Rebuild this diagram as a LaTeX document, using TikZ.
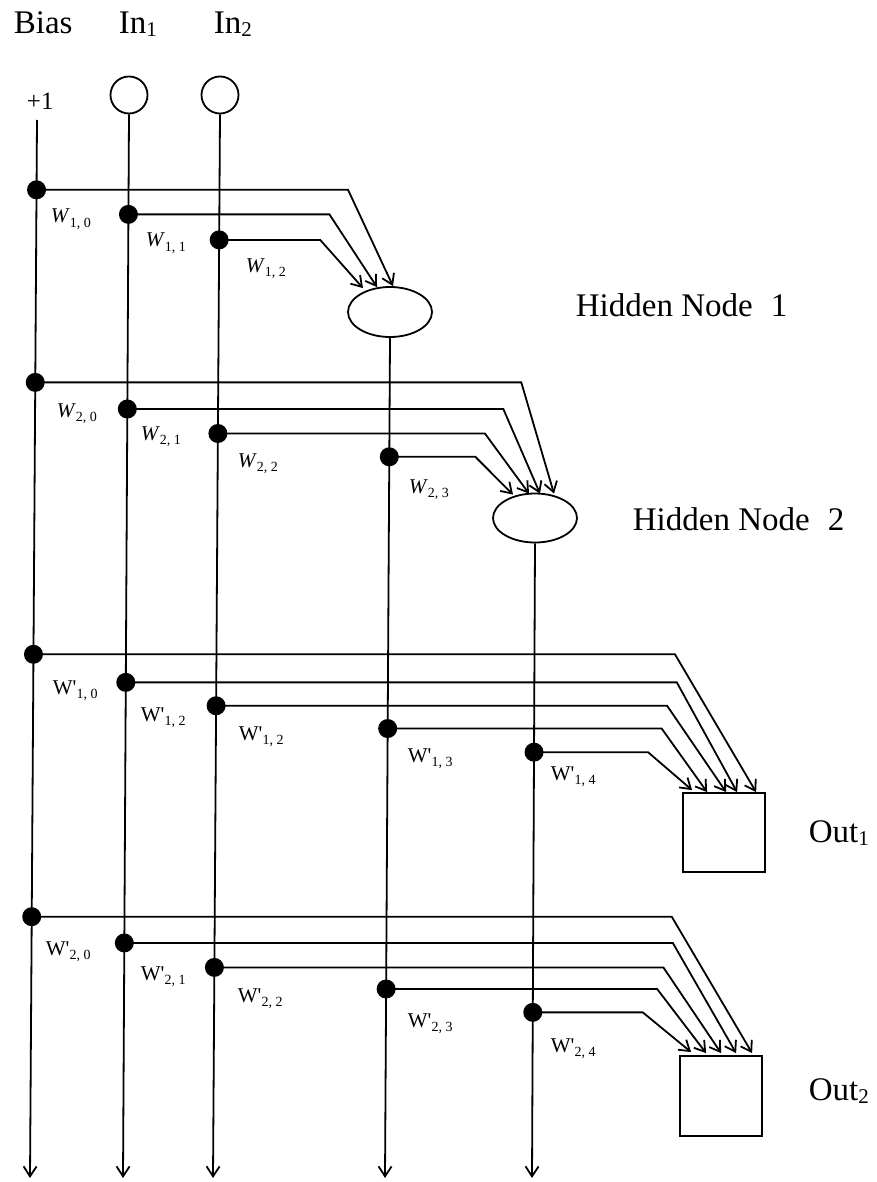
\documentclass[tikz,border=0pt]{standalone}
\usepackage{fontspec}
\setmainfont{Liberation Serif}
\usetikzlibrary{arrows.meta,shapes.geometric,calc}
\newcommand\wsub[2]{#1\raisebox{-4.5pt}{\fontsize{14}{14}\selectfont #2}}
\newcommand\bigsub[2]{#1\raisebox{-3pt}{\fontsize{21}{21}\selectfont #2}}
\begin{document}
\begin{tikzpicture}[x=1pt,y=-1pt,
  line width=1.8pt,
  conn/.style={-{Straight Barb[length=10pt,width=13pt]}, line width=1.8pt},
  dotnode/.style={circle, fill=black, draw=none, minimum size=19pt, inner sep=0pt},
  innode/.style={circle, draw, line width=1.8pt, minimum size=37pt, inner sep=0pt},
  hidnode/.style={ellipse, draw, line width=1.8pt, minimum width=84pt, minimum height=50pt, inner sep=0pt},
  outbox/.style={rectangle, draw, line width=1.8pt, minimum width=82pt, minimum height=79pt, inner sep=0pt},
  lbl/.style={anchor=base west, inner sep=0pt, font=\fontsize{33}{33}\selectfont},
  wlbl/.style={anchor=base west, inner sep=0pt, font=\fontsize{21}{21}\selectfont}]
\useasboundingbox (0,0) rectangle (876,1182);

% headings
\node[lbl] (tbias) at (13,34) {Bias};
\node[lbl] (tin1) at (118,34) {\bigsub{In}{1}};
\node[lbl] (tin2) at (213,34) {\bigsub{In}{2}};
\node[lbl, font=\fontsize{25}{25}\selectfont] (plus) at (26,110) {+1};

% nodes
\node[innode] (c1) at (129,95) {};
\node[innode] (c2) at (220,95) {};
\node[hidnode] (h1) at (390,312) {};
\node[hidnode, minimum height=49pt] (h2) at (535,518) {};
\node[outbox] (o1) at (724,832.5) {};
\node[outbox, minimum height=80pt] (o2) at (721,1096) {};

\node[lbl] (th1) at (575,316) {Hidden Node\hspace{0.55em}1};
\node[lbl] (th2) at (632,530) {Hidden Node\hspace{0.55em}2};
\node[lbl] (to1) at (808,842) {\bigsub{Out}{1}};
\node[lbl] (to2) at (808,1100) {\bigsub{Out}{2}};

% line ends
\coordinate (bt) at (37,120);
\coordinate (eb) at (30,1178);
\coordinate (e1) at (123,1178);
\coordinate (e2) at (213,1178);
\coordinate (e3) at (385,1178);
\coordinate (e4) at (532,1178);

% vertical lines with junction dots
\draw[conn] (bt) -- (eb)
  node[dotnode,pos=0.066] (d10) {}
  node[dotnode,pos=0.248] (d20) {}
  node[dotnode,pos=0.505] (d30) {}
  node[dotnode,pos=0.753] (d40) {};
\draw[conn] (c1.south) -- (e1)
  node[dotnode,pos=0.094] (d11) {}
  node[dotnode,pos=0.277] (d21) {}
  node[dotnode,pos=0.534] (d31) {}
  node[dotnode,pos=0.779] (d41) {};
\draw[conn] (c2.south) -- (e2)
  node[dotnode,pos=0.118] (d12) {}
  node[dotnode,pos=0.300] (d22) {}
  node[dotnode,pos=0.556] (d32) {}
  node[dotnode,pos=0.802] (d42) {};
\draw[conn] (h1.south) -- (e3)
  node[dotnode,pos=0.1415] (d23) {}
  node[dotnode,pos=0.465] (d33) {}
  node[dotnode,pos=0.775] (d43) {};
\draw[conn] (h2.south) -- (e4)
  node[dotnode,pos=0.329] (d34) {}
  node[dotnode,pos=0.739] (d44) {};

% row 1 -> hidden 1
\draw[conn] (d10.center) -- ++(311.5,0) -- ($(h1.north)+(3,0)$);
\draw[conn] (d11.center) -- ++(201,0) -- ($(h1.north)+(-13,1)$);
\draw[conn] (d12.center) -- ++(101,0) -- ($(h1.north)+(-27,2)$);

% row 2 -> hidden 2
\draw[conn] (d20.center) -- ++(486,0) -- ($(h2.north)+(19,1)$);
\draw[conn] (d21.center) -- ++(376,0) -- ($(h2.north)+(5,1)$);
\draw[conn] (d22.center) -- ++(267,0) -- ($(h2.north)+(-6,1)$);
\draw[conn] (d23.center) -- ++(86,0) -- ($(h2.north)+(-22,2)$);

% row 3 -> out 1
\draw[conn] (d30.center) -- ++(641.5,0) -- ($(o1.north west)+(74,0)$);
\draw[conn] (d31.center) -- ++(551,0) -- ($(o1.north west)+(55,0)$);
\draw[conn] (d32.center) -- ++(451,0) -- ($(o1.north west)+(44,0)$);
\draw[conn] (d33.center) -- ++(274,0) -- ($(o1.north west)+(25,0)$);
\draw[conn] (d34.center) -- ++(114,0) -- ($(o1.north west)+(10,-2)$);

% row 4 -> out 2
\draw[conn] (d40.center) -- ++(640,0) -- ($(o2.north west)+(73,-2)$);
\draw[conn] (d41.center) -- ++(548.5,0) -- ($(o2.north west)+(57,-2)$);
\draw[conn] (d42.center) -- ++(449,0) -- ($(o2.north west)+(42,-2)$);
\draw[conn] (d43.center) -- ++(271,0) -- ($(o2.north west)+(27,-2)$);
\draw[conn] (d44.center) -- ++(110,0) -- ($(o2.north west)+(12,-3)$);

% weight labels
\node[wlbl] (w10) at (50,223) {\wsub{\textit{W}}{1, 0}};
\node[wlbl] (w11) at (145,247) {\wsub{\textit{W}}{1, 1}};
\node[wlbl] (w12) at (245,272) {\wsub{\textit{W}}{1, 2}};
\node[wlbl] (w20) at (56,417) {\wsub{\textit{W}}{2, 0}};
\node[wlbl] (w21) at (140,440) {\wsub{\textit{W}}{2, 1}};
\node[wlbl] (w22) at (237,467) {\wsub{\textit{W}}{2, 2}};
\node[wlbl] (w23) at (408,493) {\wsub{\textit{W}}{2, 3}};

\node[wlbl] (v10) at (52,694) {\wsub{W\textquotesingle}{1, 0}};
\node[wlbl] (v11) at (140,721) {\wsub{W\textquotesingle}{1, 2}};
\node[wlbl] (v12) at (238,740) {\wsub{W\textquotesingle}{1, 2}};
\node[wlbl] (v13) at (407,762) {\wsub{W\textquotesingle}{1, 3}};
\node[wlbl] (v14) at (550,780) {\wsub{W\textquotesingle}{1, 4}};
\node[wlbl] (v20) at (45,955) {\wsub{W\textquotesingle}{2, 0}};
\node[wlbl] (v21) at (140,980) {\wsub{W\textquotesingle}{2, 1}};
\node[wlbl] (v22) at (237,1002) {\wsub{W\textquotesingle}{2, 2}};
\node[wlbl] (v23) at (407,1027) {\wsub{W\textquotesingle}{2, 3}};
\node[wlbl] (v24) at (550,1052) {\wsub{W\textquotesingle}{2, 4}};
\end{tikzpicture}
\end{document}
